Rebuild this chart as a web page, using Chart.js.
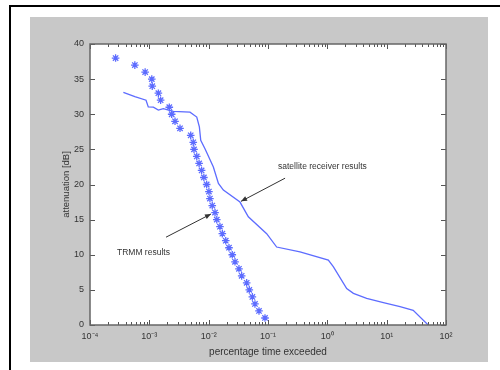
<!DOCTYPE html>
<html><head><meta charset="utf-8">
<script src="https://cdn.jsdelivr.net/npm/chart.js@4/dist/chart.umd.min.js"></script>
<style>html,body{margin:0;padding:0;background:#fff}</style>
</head><body>
<canvas id="c" width="500" height="370"></canvas>
<script>
// ---- data ----
const trmmAtt = [38,37,36,35,34,33,32,31,30,29,28,27,26,25,24,23,22,21,20,19,18,17,16,15,14,13,12,11,10,9,8,7,6,5,4,3,2,1];
const trmmPct = [2.7e-4,5.7e-4,8.5e-4,1.1e-3,1.12e-3,1.42e-3,1.55e-3,2.17e-3,2.38e-3,2.71e-3,3.29e-3,4.98e-3,5.5e-3,5.66e-3,6.3e-3,6.9e-3,7.6e-3,8.3e-3,9.25e-3,1.01e-2,1.05e-2,1.15e-2,1.28e-2,1.37e-2,1.55e-2,1.7e-2,1.94e-2,2.2e-2,2.5e-2,2.78e-2,3.24e-2,3.6e-2,4.37e-2,4.84e-2,5.45e-2,6.03e-2,7.05e-2,8.9e-2];
const satPct = [3.65e-4,5.7e-4,8.8e-4,9.6e-4,1.17e-3,1.42e-3,1.72e-3,2.54e-3,4.85e-3,6.3e-3,6.97e-3,7.35e-3,8.67e-3,1.2e-2,1.46e-2,1.77e-2,3.37e-2,4.66e-2,9.5e-2,0.14,0.346,1.04,1.26,2.12,2.75,4.6,8.8,16.8,28,50];
const satAtt = [33.1,32.5,32.0,31.05,31.0,30.6,30.8,30.4,30.3,29.6,28.2,26.3,25.1,22.5,20.15,19.2,17.5,15.4,13.0,11.1,10.4,9.25,8.3,5.2,4.5,3.8,3.2,2.6,2.1,0];
const xTickValues = [1e-4,1e-3,1e-2,1e-1,1,10,100];
const xTickLabels = ['10\u207B\u2074','10\u207B\u00B3','10\u207B\u00B2','10\u207B\u00B9','10\u2070','10\u00B9','10\u00B2'];
const yTickValues = [0,5,10,15,20,25,30,35,40];
const seriesNames = ['TRMM results','satellite receiver results'];
const xAxisTitle = 'percentage time exceeded';
const yAxisTitle = 'attenuation [dB]';
// annotation anchors in data units: text position, arrow start, arrow end
const annTexts = ['satellite receiver results','TRMM results'];
const annTextX = [0.1476, 2.85e-4];
const annTextY = [22.6, 10.24];
const annFromX = [0.194, 1.91e-3];
const annFromY = [20.9, 12.5];
const annToX = [0.0351, 0.01094];
const annToY = [17.6, 15.8];

const FONT = '"Liberation Sans", Arial, sans-serif';
const BLUE = '#5d6cff';

const framePlugin = {
  id: 'frame',
  beforeDraw(chart) {
    const ctx = chart.ctx, a = chart.chartArea;
    ctx.save();
    ctx.fillStyle = '#fff';
    ctx.fillRect(0, 0, 500, 370);
    ctx.fillStyle = '#c8c8c8';
    ctx.fillRect(30, 17, 458, 345);
    ctx.strokeStyle = '#000';
    ctx.lineWidth = 2;
    ctx.beginPath();
    ctx.moveTo(10, 370); ctx.lineTo(10, 6); ctx.lineTo(500, 6);
    ctx.stroke();
    ctx.fillStyle = '#fff';
    ctx.fillRect(a.left, a.top, a.right - a.left, a.bottom - a.top);
    ctx.restore();
  },
  afterDatasetsDraw(chart) {
    const ctx = chart.ctx, a = chart.chartArea;
    const xs = chart.scales.x, ys = chart.scales.y;
    ctx.save();
    ctx.strokeStyle = '#555';
    ctx.lineWidth = 1;
    ctx.beginPath();
    // minor x ticks
    for (let d = -4; d < 2; d++) {
      for (let k = 2; k <= 9; k++) {
        const px = Math.round(xs.getPixelForValue(k * Math.pow(10, d))) + 0.5;
        ctx.moveTo(px, a.bottom); ctx.lineTo(px, a.bottom - 3);
        ctx.moveTo(px, a.top); ctx.lineTo(px, a.top + 3);
      }
    }
    xTickValues.forEach(v => {
      const px = Math.round(xs.getPixelForValue(v)) + 0.5;
      ctx.moveTo(px, a.bottom); ctx.lineTo(px, a.bottom - 5);
      ctx.moveTo(px, a.top); ctx.lineTo(px, a.top + 5);
    });
    yTickValues.forEach(v => {
      const py = Math.round(ys.getPixelForValue(v)) + 0.5;
      ctx.moveTo(a.left, py); ctx.lineTo(a.left + 5, py);
      ctx.moveTo(a.right, py); ctx.lineTo(a.right - 5, py);
    });
    ctx.stroke();
    ctx.lineWidth = 1.5;
    ctx.strokeStyle = '#666';
    ctx.strokeRect(a.left, a.top, a.right - a.left, a.bottom - a.top);
    // annotations
    ctx.fillStyle = '#333';
    ctx.strokeStyle = '#333';
    ctx.lineWidth = 1;
    ctx.font = '8.5px ' + FONT;
    ctx.textBaseline = 'middle';
    ctx.textAlign = 'left';
    for (let i = 0; i < annTexts.length; i++) {
      ctx.fillText(annTexts[i], xs.getPixelForValue(annTextX[i]), ys.getPixelForValue(annTextY[i]));
      const x0 = xs.getPixelForValue(annFromX[i]), y0 = ys.getPixelForValue(annFromY[i]);
      const x1 = xs.getPixelForValue(annToX[i]), y1 = ys.getPixelForValue(annToY[i]);
      ctx.beginPath(); ctx.moveTo(x0, y0); ctx.lineTo(x1, y1); ctx.stroke();
      const ang = Math.atan2(y1 - y0, x1 - x0), L = 6, W = 2.5;
      ctx.beginPath();
      ctx.moveTo(x1, y1);
      ctx.lineTo(x1 - L * Math.cos(ang) + W * Math.sin(ang), y1 - L * Math.sin(ang) - W * Math.cos(ang));
      ctx.lineTo(x1 - L * Math.cos(ang) - W * Math.sin(ang), y1 - L * Math.sin(ang) + W * Math.cos(ang));
      ctx.closePath(); ctx.fill();
    }
    ctx.restore();
  }
};

new Chart(document.getElementById('c'), {
  type: 'scatter',
  data: {
    datasets: [
      {
        label: seriesNames[0],
        data: trmmPct.map((x, i) => ({x, y: trmmAtt[i]})),
        showLine: false,
        pointStyle: 'star',
        pointRadius: 3.8,
        pointBorderColor: BLUE,
        pointBackgroundColor: BLUE,
        pointBorderWidth: 1.3
      },
      {
        label: seriesNames[1],
        data: satPct.map((x, i) => ({x, y: satAtt[i]})),
        showLine: true,
        borderColor: BLUE,
        borderWidth: 1.3,
        pointRadius: 0,
        tension: 0
      }
    ]
  },
  options: {
    responsive: false,
    animation: false,
    devicePixelRatio: 1,
    layout: { padding: { left: 30, top: 44, right: 54, bottom: 8 } },
    plugins: { legend: { display: false }, tooltip: { enabled: false } },
    scales: {
      x: {
        type: 'logarithmic',
        min: 1e-4, max: 100,
        grid: { display: false, drawTicks: false },
        border: { display: false },
        afterBuildTicks: s => { s.ticks = xTickValues.map(v => ({ value: v })); },
        afterFit: s => { s.height = 37; },
        ticks: {
          autoSkip: false, maxRotation: 0, padding: 6,
          color: '#333', font: { family: FONT, size: 9 },
          callback: (v) => xTickLabels[xTickValues.findIndex(t => Math.abs(Math.log10(t) - Math.log10(v)) < 1e-6)]
        },
        title: { display: true, text: xAxisTitle, color: '#333', font: { family: FONT, size: 10 }, padding: { top: 0, bottom: 4 } }
      },
      y: {
        min: 0, max: 40,
        grid: { display: false, drawTicks: false },
        border: { display: false },
        afterBuildTicks: s => { s.ticks = yTickValues.map(v => ({ value: v })); },
        afterFit: s => { s.width = 60; },
        ticks: { padding: 6, color: '#333', font: { family: FONT, size: 9 } },
        title: { display: true, text: yAxisTitle, color: '#333', font: { family: FONT, size: 9.5 }, padding: { top: 31, bottom: 0 } }
      }
    }
  },
  plugins: [framePlugin]
});
</script>
</body></html>
